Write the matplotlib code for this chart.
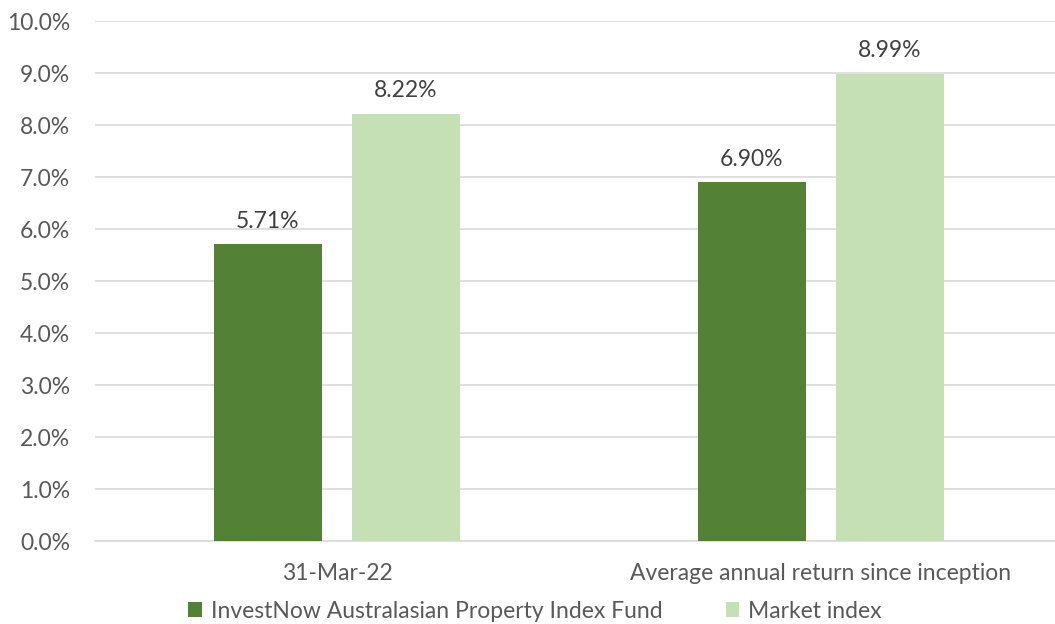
import matplotlib
matplotlib.use("Agg")
import matplotlib.pyplot as plt
from matplotlib.ticker import FuncFormatter
import numpy as np

categories = ["31-Mar-22", "Average annual return since inception"]
fund_values = [5.71, 6.90]
index_values = [8.22, 8.99]
series_names = ["InvestNow Australasian Property Index Fund", "Market index"]
yticks = [0, 1, 2, 3, 4, 5, 6, 7, 8, 9, 10]

plt.rcParams['font.family'] = ['Lato', 'DejaVu Sans']
text_color = '#595959'
dark = '#538135'
light = '#C5E0B4'
fs = 16.5

fig = plt.figure(figsize=(10.55, 6.24), dpi=100)
ax = fig.add_axes([95/1055, 83/624, 960/1055, 520/624])

x = np.arange(len(categories))
w = 0.223
off = 0.1426
b1 = ax.bar(x - off, fund_values, w, color=dark, label=series_names[0], zorder=3)
b2 = ax.bar(x + off, index_values, w, color=light, label=series_names[1], zorder=3)

for bars, vals in ((b1, fund_values), (b2, index_values)):
    for r, v in zip(bars, vals):
        ax.annotate(f"{v:.2f}%", (r.get_x() + r.get_width()/2, v),
                    xytext=(0, 9), textcoords='offset points',
                    ha='center', va='bottom', fontsize=fs, color='#404040')

ax.set_xlim(-0.5, -0.5 + 960/484)
ax.set_ylim(0, 10)
ax.set_yticks(yticks)
ax.yaxis.set_major_formatter(FuncFormatter(lambda v, p: f"{v:.1f}%"))
ax.set_xticks(x)
ax.set_xticklabels(categories)
ax.tick_params(axis='both', length=0, labelsize=fs, labelcolor=text_color)
ax.tick_params(axis='y', pad=18)
ax.tick_params(axis='x', pad=16)
ax.grid(axis='y', color='#D9D9D9', linewidth=1.2, zorder=0)
for s in ['top', 'right', 'left']:
    ax.spines[s].set_visible(False)
ax.spines['bottom'].set_color('#D9D9D9')
ax.spines['bottom'].set_linewidth(1.2)

leg = fig.legend(handles=[b1, b2], loc='center', bbox_to_anchor=(535/1055, 1 - 611/624),
                 ncol=2, frameon=False, fontsize=fs, handlelength=0.6, handleheight=0.6,
                 handletextpad=0.4, columnspacing=2.75, labelcolor=text_color)

fig.savefig("out.png", dpi=100)
